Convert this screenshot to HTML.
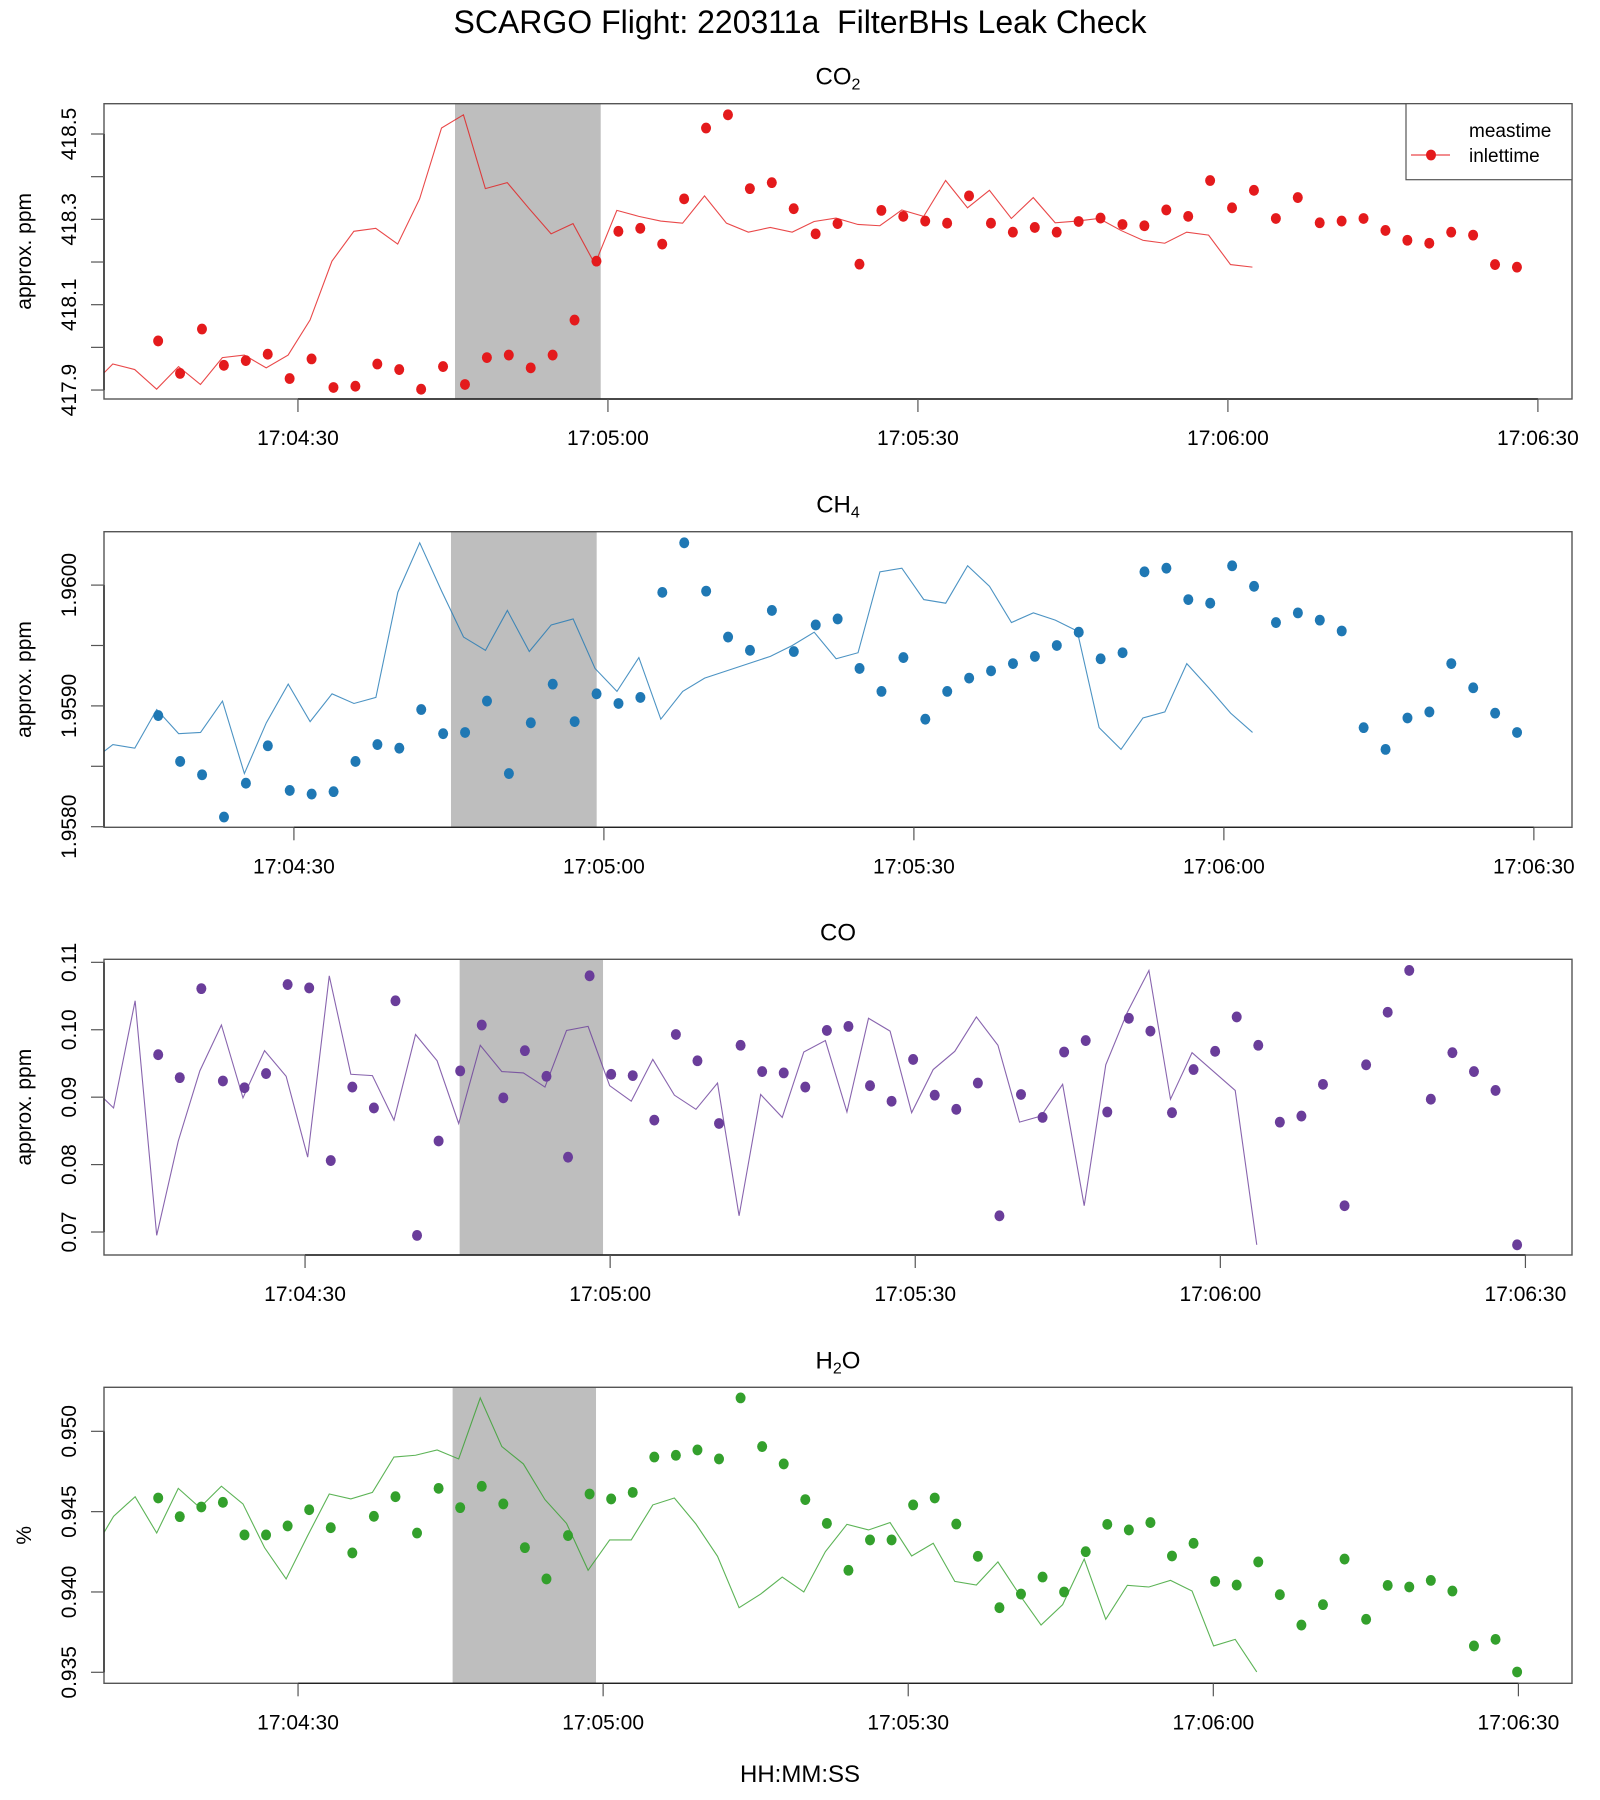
<!DOCTYPE html>
<html><head><meta charset="utf-8"><title>SCARGO Flight 220311a FilterBHs Leak Check</title>
<style>
html,body{margin:0;padding:0;background:#fff;}
svg{display:block;font-family:"Liberation Sans",Arial,sans-serif;}
</style></head>
<body>
<svg id="chart" xmlns="http://www.w3.org/2000/svg" width="1600" height="1800" viewBox="0 0 1600 1800">
<rect x="0" y="0" width="1600" height="1800" fill="#fff"/>
<text x="800" y="33" text-anchor="middle" font-size="32" fill="#000">SCARGO Flight: 220311a&#160; FilterBHs Leak Check</text>
<text x="800" y="1782" text-anchor="middle" font-size="24" fill="#000">HH:MM:SS</text>
<g id="panels"></g>
</svg>
<script>
// ---- data ----
const timeTickSeconds = [30, 60, 90, 120, 150];
const timeTickLabels = ["17:04:30", "17:05:00", "17:05:30", "17:06:00", "17:06:30"];
const shadeStartSec = 45.2;
const shadeEndSec = 59.3;
const lagSec = 25.6;
const sampleStepSec = 2.121;

const co2Values = [418.015,417.939,418.043,417.958,417.969,417.984,417.927,417.973,417.906,417.909,417.961,417.948,417.902,417.955,417.913,417.976,417.982,417.952,417.982,418.064,418.202,418.272,418.279,418.242,418.348,418.514,418.545,418.372,418.386,418.325,418.266,418.290,418.195,418.321,418.307,418.296,418.291,418.355,418.291,418.270,418.281,418.270,418.295,418.303,418.288,418.285,418.322,418.307,418.391,418.327,418.368,418.302,418.351,418.292,418.296,418.302,418.274,418.251,418.244,418.270,418.263,418.194,418.188];
const ch4Values = [1.95892,1.95854,1.95843,1.95808,1.95836,1.95867,1.95830,1.95827,1.95829,1.95854,1.95868,1.95865,1.95897,1.95877,1.95878,1.95904,1.95844,1.95886,1.95918,1.95887,1.95910,1.95902,1.95907,1.95994,1.96035,1.95995,1.95957,1.95946,1.95979,1.95945,1.95967,1.95972,1.95931,1.95912,1.95940,1.95889,1.95912,1.95923,1.95929,1.95935,1.95941,1.95950,1.95961,1.95939,1.95944,1.96011,1.96014,1.95988,1.95985,1.96016,1.95999,1.95969,1.95977,1.95971,1.95962,1.95882,1.95864,1.95890,1.95895,1.95935,1.95915,1.95894,1.95878];
const coValues = [0.0963,0.0929,0.1061,0.0924,0.0914,0.0935,0.1067,0.1062,0.0806,0.0915,0.0884,0.1043,0.0695,0.0835,0.0939,0.1007,0.0899,0.0969,0.0931,0.0811,0.1080,0.0934,0.0932,0.0866,0.0993,0.0954,0.0861,0.0977,0.0938,0.0936,0.0915,0.0999,0.1005,0.0917,0.0894,0.0956,0.0903,0.0882,0.0921,0.0724,0.0904,0.0870,0.0967,0.0984,0.0878,0.1017,0.0998,0.0877,0.0941,0.0968,0.1019,0.0977,0.0863,0.0872,0.0919,0.0739,0.0948,0.1026,0.1088,0.0897,0.0966,0.0938,0.0910,0.0681];
const h2oValues = [0.94585,0.94469,0.94529,0.94558,0.94355,0.94355,0.94411,0.94512,0.94400,0.94243,0.94471,0.94593,0.94367,0.94645,0.94525,0.94658,0.94548,0.94276,0.94081,0.94351,0.94610,0.94579,0.94620,0.94840,0.94851,0.94884,0.94828,0.95208,0.94905,0.94797,0.94575,0.94427,0.94135,0.94324,0.94324,0.94542,0.94585,0.94423,0.94222,0.93902,0.93987,0.94093,0.94000,0.94251,0.94421,0.94386,0.94432,0.94224,0.94303,0.94066,0.94043,0.94187,0.93983,0.93794,0.93921,0.94205,0.93830,0.94041,0.94031,0.94072,0.94006,0.93664,0.93705,0.93502];

const co2YTicks = [417.9, 418.0, 418.1, 418.2, 418.3, 418.4, 418.5];
const co2YLabels = ["417.9", "", "418.1", "", "418.3", "", "418.5"];
const ch4YTicks = [1.958, 1.9585, 1.959, 1.9595, 1.960];
const ch4YLabels = ["1.9580", "", "1.9590", "", "1.9600"];
const coYTicks = [0.07, 0.08, 0.09, 0.10, 0.11];
const coYLabels = ["0.07", "0.08", "0.09", "0.10", "0.11"];
const h2oYTicks = [0.935, 0.940, 0.945, 0.950];
const h2oYLabels = ["0.935", "0.940", "0.945", "0.950"];

// ---- layout ----
const NS = "http://www.w3.org/2000/svg";
const L = 104, R = 1572;
const DOT_RX = 5, DOT_RY = 5.4;
const panels = [
  {key:"co2", title:"CO", sub:"2", ylab:"approx. ppm", color:"#E41A1C", values:co2Values, yt:co2YTicks, yl:co2YLabels,
   top:103.7, bot:399, ymin:417.879, ymax:418.571, xmin:11.23, xmax:153.30, t0:16.47, legend:true},
  {key:"ch4", title:"CH", sub:"4", ylab:"approx. ppm", color:"#1F78B4", values:ch4Values, yt:ch4YTicks, yl:ch4YLabels,
   top:531.7, bot:827.3, ymin:1.957995, ymax:1.960442, xmin:11.62, xmax:153.69, t0:16.87},
  {key:"co", title:"CO", sub:"", ylab:"approx. ppm", color:"#6A3D9A", values:coValues, yt:coYTicks, yl:coYLabels,
   top:959.3, bot:1255, ymin:0.06659, ymax:0.11045, xmin:10.23, xmax:154.58, t0:15.56},
  {key:"h2o", title:"H", sub:"2", after:"O", ylab:"%", color:"#33A02C", values:h2oValues, yt:h2oYTicks, yl:h2oYLabels,
   top:1387.3, bot:1683.3, ymin:0.934315, ymax:0.952740, xmin:10.92, xmax:155.27, t0:16.25}
];

function mk(tag, attrs, parent){
  const e = document.createElementNS(NS, tag);
  for (const k in attrs) e.setAttribute(k, attrs[k]);
  if (parent) parent.appendChild(e);
  return e;
}

const root = document.getElementById("panels");
panels.forEach(function(p){
  const g = mk("g", {}, root);
  
  
  const xs = function(t){ return L + (t - p.xmin) / (p.xmax - p.xmin) * (R - L); };
  const ys = function(v){ return p.bot - (v - p.ymin) / (p.ymax - p.ymin) * (p.bot - p.top); };

  const clip = mk("clipPath", {id:"clip-" + p.key}, g);
  mk("rect", {x:L, y:p.top, width:R-L, height:p.bot-p.top}, clip);

  const sh = mk("rect", {x:xs(shadeStartSec), y:p.top, width:xs(shadeEndSec)-xs(shadeStartSec), height:p.bot-p.top, fill:"#BEBEBE"}, g);
  
  

  let d = "";
  p.values.forEach(function(v, i){
    const t = p.t0 + i * sampleStepSec - lagSec;
    d += (i ? "L" : "M") + xs(t).toFixed(2) + " " + ys(v).toFixed(2);
  });
  const line = mk("path", {d:d, fill:"none", stroke:p.color, "stroke-width":1.1, "stroke-opacity":0.8, "clip-path":"url(#clip-" + p.key + ")"}, g);
  
  

  p.values.forEach(function(v, i){
    const t = p.t0 + i * sampleStepSec;
    const c = mk("ellipse", {cx:xs(t).toFixed(2), cy:ys(v).toFixed(2), rx:DOT_RX, ry:DOT_RY, fill:p.color}, g);
    
    
  });

  const box = mk("rect", {x:L, y:p.top, width:R-L, height:p.bot-p.top, fill:"none", stroke:"#555", "stroke-width":1.4}, g);
  
  

  const xa = mk("g", {}, g);
  
  
  mk("line", {x1:xs(timeTickSeconds[0]), x2:xs(timeTickSeconds[timeTickSeconds.length-1]), y1:p.bot, y2:p.bot, stroke:"#222", "stroke-width":1.4}, xa);
  timeTickSeconds.forEach(function(s, i){
    const x = xs(s);
    const tk = mk("line", {x1:x, x2:x, y1:p.bot, y2:p.bot+13, stroke:"#555", "stroke-width":1.2}, xa);
    
    
    const tl = mk("text", {x:x, y:p.bot+46, "text-anchor":"middle", "font-size":21, fill:"#000"}, xa);
    tl.textContent = timeTickLabels[i];
    
    
  });

  const ya = mk("g", {}, g);
  
  
  mk("line", {x1:L, x2:L, y1:ys(p.yt[0]), y2:ys(p.yt[p.yt.length-1]), stroke:"#222", "stroke-width":1.4}, ya);
  p.yt.forEach(function(v, i){
    const y = ys(v);
    const tk = mk("line", {x1:L-13, x2:L, y1:y, y2:y, stroke:"#555", "stroke-width":1.2}, ya);
    
    
    if (p.yl[i]) {
      const tl = mk("text", {x:76, y:y, transform:"rotate(-90 76 " + y.toFixed(2) + ")", "text-anchor":"middle", "font-size":21, fill:"#000"}, ya);
      tl.textContent = p.yl[i];
      
      
    }
  });
  const cy = (p.top + p.bot) / 2;
  const yt = mk("text", {x:31, y:cy, transform:"rotate(-90 31 " + cy.toFixed(2) + ")", "text-anchor":"middle", "font-size":21, fill:"#000"}, g);
  yt.textContent = p.ylab;
  
  

  const pt = mk("text", {x:(L+R)/2, y:p.top-19, "text-anchor":"middle", "font-size":24, fill:"#000"}, g);
  
  
  const t1 = mk("tspan", {}, pt); t1.textContent = p.title;
  if (p.sub) { const t2 = mk("tspan", {"font-size":16, dy:5}, pt); t2.textContent = p.sub; }
  if (p.after) { const t3 = mk("tspan", {dy:-5}, pt); t3.textContent = p.after; }

  if (p.legend) {
    const lg = mk("g", {}, g);
    
    
    mk("rect", {x:1406, y:103.7, width:166, height:76, fill:"#fff", stroke:"#555", "stroke-width":1.2}, lg);
    const e1 = mk("text", {x:1469, y:137, "font-size":19, fill:"#000"}, lg);
    e1.textContent = "meastime";
    
    
    mk("line", {x1:1411, x2:1450, y1:155, y2:155, stroke:p.color, "stroke-width":1.1}, lg);
    mk("ellipse", {cx:1431, cy:155, rx:DOT_RX, ry:DOT_RY, fill:p.color}, lg);
    const e2 = mk("text", {x:1469, y:162, "font-size":19, fill:"#000"}, lg);
    e2.textContent = "inlettime";
    
    
  }
});
</script>
</body></html>
